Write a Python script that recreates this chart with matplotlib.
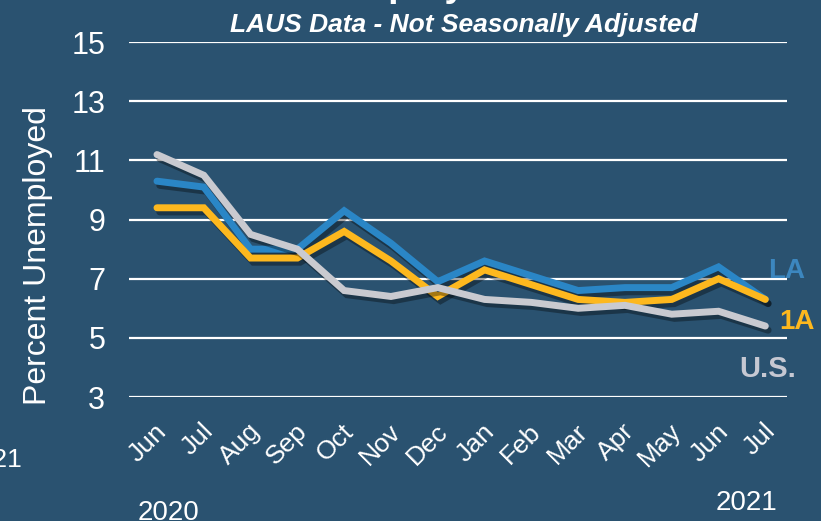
import matplotlib
matplotlib.use("Agg")
import matplotlib.pyplot as plt
import matplotlib.patheffects as pe
import matplotlib.transforms as mtransforms

plt.rcParams['font.family'] = ['Liberation Sans', 'DejaVu Sans']

# data
months = ["Jun", "Jul", "Aug", "Sep", "Oct", "Nov", "Dec",
          "Jan", "Feb", "Mar", "Apr", "May", "Jun", "Jul"]
la_rate = [10.3, 10.1, 8.0, 8.0, 9.3, 8.2, 6.9, 7.6, 7.1, 6.6, 6.7, 6.7, 7.4, 6.3]
ia_rate = [9.4, 9.4, 7.7, 7.7, 8.6, 7.6, 6.4, 7.3, 6.8, 6.3, 6.2, 6.3, 7.0, 6.3]
us_rate = [11.2, 10.5, 8.5, 8.0, 6.6, 6.4, 6.7, 6.3, 6.2, 6.0, 6.1, 5.8, 5.9, 5.4]
y_ticks = [3, 5, 7, 9, 11, 13, 15]

bg = "#2A5270"
blue = "#2A86C6"
yellow = "#FDB81E"
grey = "#C9CAD0"

fig = plt.figure(figsize=(8.21, 5.21), dpi=100, facecolor=bg)
ax = fig.add_axes([0.157, 0.238, 0.802, 0.681], facecolor=bg)

x = list(range(len(months)))
shadow = [pe.SimpleLineShadow(offset=(2, -3), shadow_color="black", alpha=0.35), pe.Normal()]
ax.plot(x, la_rate, color=blue, lw=5, solid_capstyle="round", solid_joinstyle="miter",
        path_effects=shadow, zorder=3)
ax.plot(x, ia_rate, color=yellow, lw=5, solid_capstyle="round", solid_joinstyle="miter",
        path_effects=shadow, zorder=4)
ax.plot(x, us_rate, color=grey, lw=5, solid_capstyle="round", solid_joinstyle="miter",
        path_effects=shadow, zorder=5)

ax.set_xlim(-0.6, 13.47)
ax.set_ylim(3, 15)
ax.set_yticks(y_ticks)
ax.set_yticklabels([str(t) for t in y_ticks])
ax.grid(axis="y", color="white", lw=1.6, zorder=1)
ax.set_axisbelow(True)
for s in ax.spines.values():
    s.set_visible(False)
ax.tick_params(axis="y", length=0, pad=17, labelsize=22, labelcolor="white")
ax.tick_params(axis="x", length=0, pad=4, labelsize=19, labelcolor="white")
ax.set_xticks(x)
ax.set_xticklabels(months, rotation=45, ha="right", va="center", rotation_mode="anchor")
for lbl in ax.get_xticklabels():
    lbl.set_transform(lbl.get_transform() + mtransforms.ScaledTranslation(0.06, -0.25, fig.dpi_scale_trans))

ax.set_ylabel("Percent Unemployed", color="white", fontsize=23)
ax.yaxis.set_label_coords(-0.115, 0.40)

# series labels at the right end
ax.text(13.05, 7.25, "LA", color="#3C87BF", fontsize=20, fontweight="bold", va="center", ha="left")
ax.text(13.3, 5.55, "1A", color=yellow, fontsize=20, fontweight="bold", va="center", ha="left")
ax.text(12.45, 3.95, "U.S.", color="#C6C8D2", fontsize=21, fontweight="bold", va="center", ha="left")

# year labels under the first and last month
trans = mtransforms.blended_transform_factory(ax.transData, fig.transFigure)
ax.text(0.25, -0.009, "2020", color="white", fontsize=20, ha="center", va="bottom", transform=trans)
ax.text(12.6, 0.01, "2021", color="white", fontsize=20, ha="center", va="bottom", transform=trans)
fig.text(0.027, 0.104, "2021", color="white", fontsize=19, ha="right", va="baseline")

# titles (main title is cut off at the top of the frame)
fig.text(0.565, 0.952, "LAUS Data - Not Seasonally Adjusted", color="white", fontsize=19,
         fontweight="bold", fontstyle="italic", ha="center", va="center")
fig.text(0.567, 1.008, "Unemployment Rate", color="white", fontsize=27,
         fontweight="bold", ha="center", va="baseline")

fig.savefig("out.png", dpi=100, facecolor=bg)
